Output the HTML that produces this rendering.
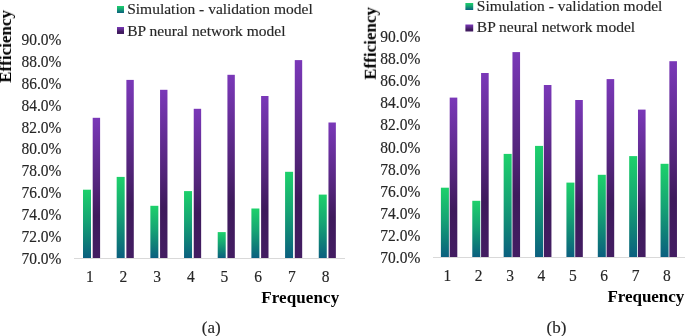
<!DOCTYPE html>
<html><head><meta charset="utf-8"><style>
html,body{margin:0;padding:0;background:#fff;}
body{width:685px;height:336px;overflow:hidden;}
svg{display:block;}
.t{font-family:"Liberation Serif",serif;font-size:15.5px;fill:#262626;stroke:#262626;stroke-width:0.15px;will-change:transform;}
.b{font-family:"Liberation Serif",serif;font-size:17px;font-weight:bold;fill:#000;will-change:transform;}
</style></head><body>
<svg width="685" height="336" viewBox="0 0 685 336">
<defs>
<linearGradient id="gg" x1="0" y1="0" x2="0" y2="1">
<stop offset="0" stop-color="#1dd16b"/>
<stop offset="0.45" stop-color="#16a474"/>
<stop offset="0.75" stop-color="#0f7f78"/>
<stop offset="1" stop-color="#0b5f7f"/>
</linearGradient>
<linearGradient id="pg" x1="0" y1="0" x2="0" y2="1">
<stop offset="0" stop-color="#7a38b8"/>
<stop offset="0.5" stop-color="#522479"/>
<stop offset="0.7" stop-color="#3e1a5c"/>
<stop offset="1" stop-color="#431d62"/>
</linearGradient>
</defs>
<rect width="685" height="336" fill="#fff"/>
<rect x="74" y="258" width="271" height="1" fill="#d9d9d9"/>
<rect x="83.00" y="189.70" width="8.0" height="68.30" fill="url(#gg)"/>
<rect x="92.70" y="117.80" width="7.4" height="140.20" fill="url(#pg)"/>
<text x="0" y="5.25" text-anchor="middle" class="t" transform="translate(89.75,276.25) scale(1,1.1)">1</text>
<rect x="116.68" y="176.90" width="8.0" height="81.10" fill="url(#gg)"/>
<rect x="126.38" y="79.90" width="7.4" height="178.10" fill="url(#pg)"/>
<text x="0" y="5.25" text-anchor="middle" class="t" transform="translate(123.43,276.25) scale(1,1.1)">2</text>
<rect x="150.36" y="205.80" width="8.0" height="52.20" fill="url(#gg)"/>
<rect x="160.06" y="89.80" width="7.4" height="168.20" fill="url(#pg)"/>
<text x="0" y="5.25" text-anchor="middle" class="t" transform="translate(157.11,276.25) scale(1,1.1)">3</text>
<rect x="184.04" y="191.10" width="8.0" height="66.90" fill="url(#gg)"/>
<rect x="193.74" y="108.80" width="7.4" height="149.20" fill="url(#pg)"/>
<text x="0" y="5.25" text-anchor="middle" class="t" transform="translate(190.79,276.25) scale(1,1.1)">4</text>
<rect x="217.72" y="232.10" width="8.0" height="25.90" fill="url(#gg)"/>
<rect x="227.42" y="74.80" width="7.4" height="183.20" fill="url(#pg)"/>
<text x="0" y="5.25" text-anchor="middle" class="t" transform="translate(224.47,276.25) scale(1,1.1)">5</text>
<rect x="251.40" y="208.50" width="8.0" height="49.50" fill="url(#gg)"/>
<rect x="261.10" y="96.00" width="7.4" height="162.00" fill="url(#pg)"/>
<text x="0" y="5.25" text-anchor="middle" class="t" transform="translate(258.15,276.25) scale(1,1.1)">6</text>
<rect x="285.08" y="171.80" width="8.0" height="86.20" fill="url(#gg)"/>
<rect x="294.78" y="60.10" width="7.4" height="197.90" fill="url(#pg)"/>
<text x="0" y="5.25" text-anchor="middle" class="t" transform="translate(291.83,276.25) scale(1,1.1)">7</text>
<rect x="318.76" y="194.60" width="8.0" height="63.40" fill="url(#gg)"/>
<rect x="328.46" y="122.50" width="7.4" height="135.50" fill="url(#pg)"/>
<text x="0" y="5.25" text-anchor="middle" class="t" transform="translate(325.51,276.25) scale(1,1.1)">8</text>
<text x="0" y="5.25" text-anchor="end" class="t" transform="translate(61.5,39.00) scale(1,1.1)">90.0%</text>
<text x="0" y="5.25" text-anchor="end" class="t" transform="translate(61.5,60.94) scale(1,1.1)">88.0%</text>
<text x="0" y="5.25" text-anchor="end" class="t" transform="translate(61.5,82.88) scale(1,1.1)">86.0%</text>
<text x="0" y="5.25" text-anchor="end" class="t" transform="translate(61.5,104.82) scale(1,1.1)">84.0%</text>
<text x="0" y="5.25" text-anchor="end" class="t" transform="translate(61.5,126.76) scale(1,1.1)">82.0%</text>
<text x="0" y="5.25" text-anchor="end" class="t" transform="translate(61.5,148.70) scale(1,1.1)">80.0%</text>
<text x="0" y="5.25" text-anchor="end" class="t" transform="translate(61.5,170.64) scale(1,1.1)">78.0%</text>
<text x="0" y="5.25" text-anchor="end" class="t" transform="translate(61.5,192.58) scale(1,1.1)">76.0%</text>
<text x="0" y="5.25" text-anchor="end" class="t" transform="translate(61.5,214.52) scale(1,1.1)">74.0%</text>
<text x="0" y="5.25" text-anchor="end" class="t" transform="translate(61.5,236.46) scale(1,1.1)">72.0%</text>
<text x="0" y="5.25" text-anchor="end" class="t" transform="translate(61.5,258.40) scale(1,1.1)">70.0%</text>
<rect x="117" y="6" width="7" height="7" fill="url(#gg)"/>
<rect x="117" y="27" width="7" height="7" fill="url(#pg)"/>
<text x="127.2" y="13.6" class="t" style="font-size:15.5px">Simulation - validation model</text>
<text x="127.2" y="35.5" class="t" style="font-size:15.5px">BP neural network model</text>
<text x="261.2" y="302.6" class="b" style="letter-spacing:0.12px">Frequency</text>
<text x="0" y="0" class="b" transform="translate(11.0,82.8) rotate(-90)">Efficiency</text>
<text x="201.8" y="333.3" class="t" style="font-size:17px">(a)</text>
<rect x="433" y="257" width="252" height="1" fill="#d9d9d9"/>
<rect x="440.90" y="187.70" width="8.0" height="69.30" fill="url(#gg)"/>
<rect x="449.70" y="97.60" width="7.6" height="159.40" fill="url(#pg)"/>
<text x="0" y="5.25" text-anchor="middle" class="t" transform="translate(447.30,275.25) scale(1,1.1)">1</text>
<rect x="472.28" y="200.80" width="8.0" height="56.20" fill="url(#gg)"/>
<rect x="481.08" y="73.00" width="7.6" height="184.00" fill="url(#pg)"/>
<text x="0" y="5.25" text-anchor="middle" class="t" transform="translate(478.68,275.25) scale(1,1.1)">2</text>
<rect x="503.66" y="153.90" width="8.0" height="103.10" fill="url(#gg)"/>
<rect x="512.46" y="52.10" width="7.6" height="204.90" fill="url(#pg)"/>
<text x="0" y="5.25" text-anchor="middle" class="t" transform="translate(510.06,275.25) scale(1,1.1)">3</text>
<rect x="535.04" y="145.90" width="8.0" height="111.10" fill="url(#gg)"/>
<rect x="543.84" y="85.00" width="7.6" height="172.00" fill="url(#pg)"/>
<text x="0" y="5.25" text-anchor="middle" class="t" transform="translate(541.44,275.25) scale(1,1.1)">4</text>
<rect x="566.42" y="182.60" width="8.0" height="74.40" fill="url(#gg)"/>
<rect x="575.22" y="100.00" width="7.6" height="157.00" fill="url(#pg)"/>
<text x="0" y="5.25" text-anchor="middle" class="t" transform="translate(572.82,275.25) scale(1,1.1)">5</text>
<rect x="597.80" y="174.80" width="8.0" height="82.20" fill="url(#gg)"/>
<rect x="606.60" y="79.10" width="7.6" height="177.90" fill="url(#pg)"/>
<text x="0" y="5.25" text-anchor="middle" class="t" transform="translate(604.20,275.25) scale(1,1.1)">6</text>
<rect x="629.18" y="156.10" width="8.0" height="100.90" fill="url(#gg)"/>
<rect x="637.98" y="109.60" width="7.6" height="147.40" fill="url(#pg)"/>
<text x="0" y="5.25" text-anchor="middle" class="t" transform="translate(635.58,275.25) scale(1,1.1)">7</text>
<rect x="660.56" y="163.80" width="8.0" height="93.20" fill="url(#gg)"/>
<rect x="669.36" y="61.20" width="7.6" height="195.80" fill="url(#pg)"/>
<text x="0" y="5.25" text-anchor="middle" class="t" transform="translate(666.96,275.25) scale(1,1.1)">8</text>
<text x="0" y="5.25" text-anchor="end" class="t" transform="translate(420.3,36.20) scale(1,1.1)">90.0%</text>
<text x="0" y="5.25" text-anchor="end" class="t" transform="translate(420.3,58.32) scale(1,1.1)">88.0%</text>
<text x="0" y="5.25" text-anchor="end" class="t" transform="translate(420.3,80.44) scale(1,1.1)">86.0%</text>
<text x="0" y="5.25" text-anchor="end" class="t" transform="translate(420.3,102.56) scale(1,1.1)">84.0%</text>
<text x="0" y="5.25" text-anchor="end" class="t" transform="translate(420.3,124.68) scale(1,1.1)">82.0%</text>
<text x="0" y="5.25" text-anchor="end" class="t" transform="translate(420.3,146.80) scale(1,1.1)">80.0%</text>
<text x="0" y="5.25" text-anchor="end" class="t" transform="translate(420.3,168.92) scale(1,1.1)">78.0%</text>
<text x="0" y="5.25" text-anchor="end" class="t" transform="translate(420.3,191.04) scale(1,1.1)">76.0%</text>
<text x="0" y="5.25" text-anchor="end" class="t" transform="translate(420.3,213.16) scale(1,1.1)">74.0%</text>
<text x="0" y="5.25" text-anchor="end" class="t" transform="translate(420.3,235.28) scale(1,1.1)">72.0%</text>
<text x="0" y="5.25" text-anchor="end" class="t" transform="translate(420.3,257.40) scale(1,1.1)">70.0%</text>
<rect x="465.4" y="3" width="7.8" height="7" fill="url(#gg)"/>
<rect x="465.4" y="24.5" width="7.8" height="7" fill="url(#pg)"/>
<text x="476.8" y="10.8" class="t" style="font-size:15.5px">Simulation - validation model</text>
<text x="476.8" y="32.4" class="t" style="font-size:15.5px">BP neural network model</text>
<text x="607.5" y="301.5" class="b" style="letter-spacing:-0.05px">Frequency</text>
<text x="0" y="0" class="b" transform="translate(375.8,79.8) rotate(-90)">Efficiency</text>
<text x="546.6" y="333.3" class="t" style="font-size:17px">(b)</text>
</svg>
</body></html>
